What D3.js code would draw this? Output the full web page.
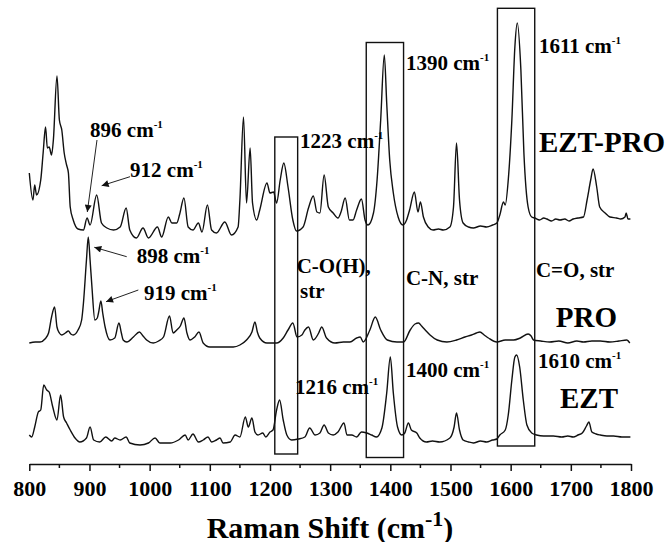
<!DOCTYPE html>
<html>
<head>
<meta charset="utf-8">
<script src="https://cdn.jsdelivr.net/npm/d3@7"></script>
<style>
  html, body { margin: 0; padding: 0; background: #fff; }
  svg { display: block; }
  text { font-family: "Liberation Serif", "Times New Roman", serif; font-weight: bold; fill: #000; }
</style>
</head>
<body>
<svg id="chart" width="671" height="542"></svg>
<script>
// Raman shift axis ticks (cm-1)
const majorTicks = [800, 900, 1000, 1100, 1200, 1300, 1400, 1500, 1600, 1700, 1800];
const minorTicks = [850, 950, 1050, 1150, 1250, 1350, 1450, 1550, 1650, 1750];

// Spectra: [Raman shift (cm-1), intensity (a.u., above each trace's own baseline)]
const eztProSpectrum = [
  [800,67],[806,40],[809,55],[812,45],[819,60],[823,87],[827,113],[830,92],[833,93],[837,85],
  [840,100],[846,164],[850,120],[854,110],[858,87],[862,75],[865,67],[868,33],[873,20],[881,11],
  [890,10],[896,22],[901,15],[912,45],[920,17],[929,12],[940,10],[951,13],[961,32],[967,10],
  [978,2],[989,12],[998,2],[1013,13],[1020,3],[1031,23],[1037,17],[1045,17],[1050,26],[1057,42],
  [1064,13],[1072,10],[1081,17],[1087,8],[1096,35],[1103,10],[1111,7],[1125,18],[1136,5],[1147,13],
  [1150,40],[1156,123],[1161,37],[1167,92],[1171,37],[1178,20],[1183,30],[1195,57],[1200,47],[1206,48],
  [1211,37],[1217,60],[1223,77],[1230,53],[1238,20],[1244,9],[1255,13],[1264,32],[1272,44],[1278,28],
  [1283,27],[1290,65],[1297,33],[1305,27],[1313,22],[1318,28],[1325,42],[1332,20],[1338,20],[1344,30],
  [1352,41],[1358,20],[1363,15],[1372,27],[1378,60],[1384,120],[1390,185],[1394,137],[1399,80],[1405,47],
  [1413,23],[1421,15],[1427,20],[1432,30],[1440,48],[1446,28],[1450,38],[1455,23],[1463,13],[1471,10],
  [1480,11],[1488,10],[1499,13],[1505,33],[1510,97],[1515,40],[1521,17],[1530,13],[1538,12],[1550,14],
  [1560,13],[1570,15],[1577,17],[1582,25],[1588,38],[1591,35],[1596,60],[1602,120],[1607,193],[1611,217],
  [1617,170],[1622,87],[1629,33],[1635,23],[1640,22],[1648,20],[1655,22],[1660,21],[1668,19],[1675,21],
  [1682,20],[1690,21],[1697,19],[1704,21],[1712,22],[1721,23],[1727,40],[1733,60],[1737,71],[1743,53],
  [1748,33],[1757,27],[1765,23],[1776,22],[1783,21],[1790,23],[1792,27],[1795,21],[1799,21]
];

const proSpectrum = [
  [800,5],[810,6],[818,6],[826,9],[832,15],[837,31],[842,41],[846,21],[850,15],[854,13],
  [860,15],[865,17],[869,14],[873,13],[881,18],[887,28],[890,45],[895,88],[898,111],[901,88],
  [904,62],[909,28],[913,30],[915,35],[919,47],[922,35],[926,21],[934,8],[942,10],[949,25],
  [953,15],[956,8],[962,6],[973,11],[983,16],[989,12],[995,8],[1006,5],[1015,7],[1023,11],
  [1033,32],[1039,15],[1045,18],[1051,22],[1057,30],[1062,15],[1067,8],[1075,11],[1082,16],[1089,5],
  [1100,1],[1117,1],[1139,1],[1150,3],[1161,8],[1170,16],[1175,26],[1179,16],[1183,10],[1195,5],
  [1211,5],[1222,10],[1230,18],[1238,25],[1245,11],[1253,13],[1258,18],[1264,21],[1272,8],[1281,15],
  [1286,21],[1294,10],[1308,5],[1322,6],[1333,6],[1344,10],[1350,11],[1355,6],[1366,18],[1375,31],
  [1384,18],[1395,8],[1411,6],[1422,6],[1433,18],[1441,24],[1447,25],[1452,22],[1458,18],[1466,13],
  [1478,8],[1494,6],[1510,8],[1524,11],[1535,13],[1543,15],[1549,16],[1556,13],[1563,10],[1577,6],
  [1591,8],[1605,8],[1616,10],[1629,14],[1634,12],[1638,8],[1650,7],[1665,6],[1680,7],[1695,5],
  [1710,7],[1721,6],[1735,7],[1749,7],[1765,6],[1780,7],[1793,8],[1798,5]
];

const eztSpectrum = [
  [800,12],[804,10],[809,20],[815,35],[819,37],[824,62],[829,57],[833,55],[839,40],[846,27],
  [852,52],[857,30],[862,24],[868,17],[876,9],[884,5],[895,9],[901,20],[907,7],[917,5],
  [927,10],[937,6],[942,9],[951,7],[961,10],[967,4],[984,2],[998,4],[1009,9],[1017,4],
  [1034,4],[1048,7],[1059,12],[1064,7],[1072,13],[1081,5],[1089,7],[1097,10],[1103,5],[1111,7],
  [1117,9],[1122,4],[1134,5],[1142,12],[1150,10],[1159,30],[1164,20],[1170,29],[1175,15],[1180,12],
  [1188,14],[1193,10],[1200,15],[1205,17],[1211,37],[1216,47],[1222,27],[1228,12],[1236,7],[1247,8],
  [1258,10],[1266,19],[1275,12],[1283,14],[1290,22],[1297,14],[1305,12],[1313,15],[1323,24],[1328,12],
  [1336,12],[1344,10],[1352,15],[1361,14],[1369,12],[1377,10],[1386,19],[1394,54],[1400,90],[1405,54],
  [1412,20],[1419,12],[1424,14],[1430,24],[1435,17],[1444,14],[1449,9],[1460,5],[1470,6],[1482,5],
  [1499,9],[1506,20],[1510,34],[1515,17],[1521,7],[1530,5],[1538,4],[1550,6],[1560,5],[1570,7],
  [1577,8],[1582,12],[1591,17],[1596,32],[1602,67],[1607,90],[1610,92],[1615,80],[1621,47],[1627,22],
  [1635,14],[1643,12],[1655,11],[1671,11],[1685,10],[1695,11],[1704,10],[1712,12],[1719,14],[1726,21],
  [1730,25],[1735,15],[1742,13],[1749,12],[1760,11],[1771,11],[1785,10],[1799,10]
];

const seriesNames = ["EZT-PRO", "PRO", "EZT"];

// Vibrational bands highlighted with frames (cm-1 ranges) and their assignments
const bandRanges = [[1208, 1246], [1360, 1422], [1578, 1640]];
const bandAssignments = ["C-O(H),", "C-N, str", "C=O, str"];

// Labelled peak positions (cm-1)
const eztProPeaks = [896, 912, 1223, 1390, 1611];
const proPeaks = [898, 919];
const eztPeaks = [1216, 1400, 1610];

// ---------------------------------------------------------------
const svg = d3.select("#chart");
const x = d3.scaleLinear().domain([800, 1800]).range([29.3, 631]);
const y = d3.scaleLinear().domain([0, 460]).range([464, 4]);

const traces = [
  { name: seriesNames[0], values: eztProSpectrum, offset: 224 },
  { name: seriesNames[1], values: proSpectrum, offset: 116 },
  { name: seriesNames[2], values: eztSpectrum, offset: 17 }
];

// Band frames
const frameLayout = [[327, 10], [421.5, 6.5], [455.7, 18]];
svg.append("g").selectAll("rect")
  .data(bandRanges)
  .join("rect")
  .attr("x", d => x(d[0]))
  .attr("width", d => x(d[1]) - x(d[0]))
  .attr("y", (d, i) => y(frameLayout[i][0]))
  .attr("height", (d, i) => y(frameLayout[i][1]) - y(frameLayout[i][0]))
  .attr("fill", "none")
  .attr("stroke", "#111")
  .attr("stroke-width", 1.4);

// Spectra
traces.forEach(t => {
  const line = d3.line()
    .x(d => x(d[0]))
    .y(d => y(d[1] + t.offset))
    .curve(d3.curveMonotoneX);
  svg.append("path")
    .datum(t.values)
    .attr("d", line)
    .attr("fill", "none")
    .attr("stroke", "#111")
    .attr("stroke-width", 1.4)
    .attr("stroke-linejoin", "round");
});

// X axis
const axis = svg.append("g").attr("transform", `translate(0,${y(0)})`);
axis.call(d3.axisBottom(x).tickValues(majorTicks).tickSize(7).tickSizeOuter(0).tickFormat(d3.format("d")));
axis.select(".domain").attr("stroke", "#111").attr("stroke-width", 1.5);
axis.selectAll(".tick line").attr("stroke", "#111").attr("stroke-width", 1.5);
axis.selectAll(".tick text")
  .attr("y", 32).attr("dy", 0)
  .style("font-family", "'Liberation Serif','Times New Roman',serif")
  .style("font-weight", "bold")
  .style("font-size", "22px")
  .attr("fill", "#000");
axis.selectAll(".minor")
  .data(minorTicks)
  .join("line")
  .attr("class", "minor")
  .attr("x1", d => x(d)).attr("x2", d => x(d))
  .attr("y1", 0).attr("y2", 4)
  .attr("stroke", "#111").attr("stroke-width", 1.5);

// Axis title
const title = svg.append("text")
  .attr("x", 330).attr("y", 537.5)
  .attr("text-anchor", "middle")
  .style("font-size", "30px");
title.append("tspan").text("Raman Shift (cm");
title.append("tspan").text("-1").style("font-size", "22px").attr("dy", -12);
title.append("tspan").text(")").attr("dy", 12);

// Text helpers
function label(txt, wn, u, size) {
  return svg.append("text")
    .attr("x", x(wn)).attr("y", y(u))
    .style("font-size", size + "px")
    .text(txt);
}
function peakLabel(peak, wn, u) {
  const t = svg.append("text")
    .attr("x", x(wn)).attr("y", y(u))
    .style("font-size", "21px");
  t.append("tspan").text(peak + " cm");
  t.append("tspan").text("-1").style("font-size", "11px").attr("dy", -9);
  return t;
}

// Peak labels
peakLabel(eztProPeaks[0], 901, 327);
peakLabel(eztProPeaks[1], 967.5, 287.3);
peakLabel(eztProPeaks[2], bandRanges[0][1] + 4, 316);
peakLabel(eztProPeaks[3], bandRanges[1][1] + 4, 394);
peakLabel(eztProPeaks[4], bandRanges[2][1] + 7, 410.7);
peakLabel(proPeaks[0], 978.5, 201.3);
peakLabel(proPeaks[1], 990.6, 164);
peakLabel(eztPeaks[0], 1241.6, 69.7);
peakLabel(eztPeaks[1], bandRanges[1][1] + 4, 86.7);
peakLabel(eztPeaks[2], bandRanges[2][1] + 5.5, 96.3);

// Band assignments
label(bandAssignments[0], bandRanges[0][1] - 1.6, 190.7, 21);
label("str", bandRanges[0][1] + 4, 165.7, 21);
label(bandAssignments[1], bandRanges[1][1] + 4, 179, 21);
label(bandAssignments[2], bandRanges[2][1] + 2, 187.3, 21);

// Series names
label(seriesNames[0], 1647, 312.3, 29);
label(seriesNames[1], 1675, 136.7, 29);
label(seriesNames[2], 1682, 55.7, 29);

// Arrows pointing at labelled peaks
svg.append("defs").append("marker")
  .attr("id", "head")
  .attr("viewBox", "0 0 10 10")
  .attr("refX", 10).attr("refY", 5)
  .attr("markerUnits", "userSpaceOnUse")
  .attr("markerWidth", 10).attr("markerHeight", 7)
  .attr("orient", "auto")
  .append("path").attr("d", "M0,0 L10,5 L0,10 Z").attr("fill", "#111");

const arrows = [
  [[912.5, 324], [eztProPeaks[0] + 0.4, 252]],
  [[967.4, 287.3], [eztProPeaks[1] + 8.3, 278.3]],
  [[961.9, 207.3], [proPeaks[0] + 10, 216.7]],
  [[981.2, 174], [proPeaks[1] + 8.5, 162.3]]
];
svg.append("g").selectAll("line")
  .data(arrows)
  .join("line")
  .attr("x1", d => x(d[0][0])).attr("y1", d => y(d[0][1]))
  .attr("x2", d => x(d[1][0])).attr("y2", d => y(d[1][1]))
  .attr("stroke", "#222").attr("stroke-width", 1)
  .attr("marker-end", "url(#head)");
</script>
</body>
</html>
